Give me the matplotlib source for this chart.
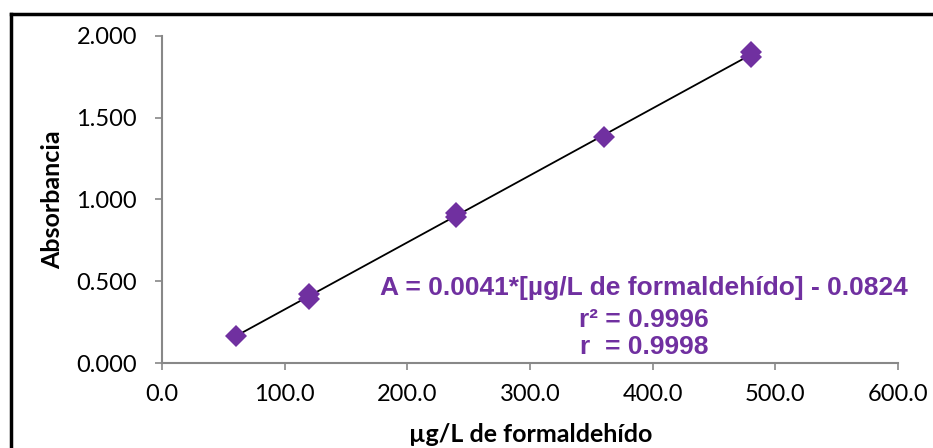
import matplotlib
matplotlib.use("Agg")
import matplotlib.pyplot as plt
from matplotlib.lines import Line2D
import numpy as np

# Data
conc = [60, 120, 120, 240, 240, 360, 480, 480]
absorb = [0.165, 0.420, 0.390, 0.920, 0.890, 1.380, 1.905, 1.870]
slope = 0.0041
intercept = -0.0824
eq_lines = ["A = 0.0041*[µg/L de formaldehído] - 0.0824", "r² = 0.9996", "r  = 0.9998"]
x_ticks = [0, 100, 200, 300, 400, 500, 600]
y_ticks = [0.0, 0.5, 1.0, 1.5, 2.0]

purple = "#7030A0"
gray = "#888888"

fig = plt.figure(figsize=(9.33, 4.48), dpi=100)
ax = fig.add_axes([162/933, 85/448, 736/933, 327/448])

# fit line
xf = np.array([min(conc), max(conc)])
ax.plot(xf, slope*xf + intercept, color="black", lw=1.3, zorder=2)
ax.plot(conc, absorb, linestyle="none", marker="D", markersize=11,
        color=purple, markeredgewidth=0, zorder=3)

ax.set_xlim(0, 600)
ax.set_ylim(0, 2.0)
ax.set_xticks(x_ticks)
ax.set_yticks(y_ticks)
ax.set_xticklabels([f"{v:.1f}" for v in x_ticks], fontfamily="Lato", fontsize=17)
ax.set_yticklabels([f"{v:.3f}" for v in y_ticks], fontfamily="Lato", fontsize=17)
for s in ["top", "right"]:
    ax.spines[s].set_visible(False)
for s in ["left", "bottom"]:
    ax.spines[s].set_color(gray)
    ax.spines[s].set_linewidth(1.5)
ax.tick_params(axis="both", direction="out", length=5, width=1.2, color=gray)
ax.tick_params(axis="y", pad=13)
ax.tick_params(axis="x", pad=10)

ax.set_xlabel("µg/L de formaldehído", fontfamily="Lato", fontweight="bold",
              fontsize=18)
ax.set_ylabel("Absorbancia", fontfamily="Lato", fontweight="bold",
              fontsize=18)
ax.xaxis.set_label_coords(0.501, -0.183)
ax.yaxis.set_label_coords(-0.133, 0.5)

ys = [288, 320, 347]
for t, yp in zip(eq_lines, ys):
    fig.text(644/933, 1 - yp/448, t, ha="center", va="center", color=purple,
             fontfamily="Liberation Sans", fontweight="bold", fontsize=19)

# outer frame remnants
fig.add_artist(Line2D([11/933, 11/933], [0, 1 - 14/448], color="black", lw=2.5,
                      transform=fig.transFigure))
fig.add_artist(Line2D([11/933, 1], [1 - 14/448, 1 - 14/448], color="black", lw=2.5,
                      transform=fig.transFigure))

fig.savefig("out.png", dpi=100)
